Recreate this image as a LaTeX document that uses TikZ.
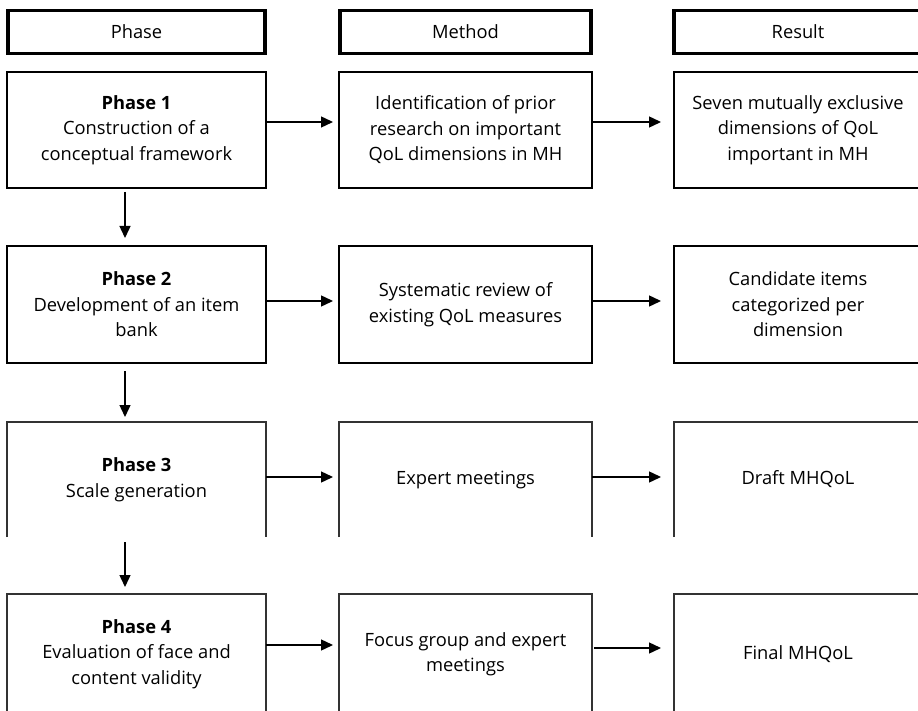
\documentclass[tikz,border=0pt]{standalone}
\usepackage{fontspec}
\setmainfont{Open Sans}
\usetikzlibrary{arrows.meta}
\begin{document}
\begin{tikzpicture}[x=1pt,y=-1pt,
  every node/.style={inner sep=0pt, outer sep=0pt, align=center, text=black,
    font=\fontsize{18.3}{25.5}\selectfont},
  hdr/.style={draw=black, line width=3.4pt, minimum height=43pt},
  cell/.style={draw=black, line width=1.4pt},
  opencell/.style={draw=none},
  arr/.style={line width=1.4pt, -{Triangle[length=12pt,width=11pt]}},
]
\useasboundingbox (0,0) rectangle (918,711);
\clip (0,0) rectangle (918,711);
% headers
\node[hdr, minimum width=257pt] (hp) at (136.5,32) {Phase};
\node[hdr, minimum width=251pt] (hm) at (465.5,32) {Method};
\node[hdr, minimum width=248pt] (hr) at (798,32) {Result};
% row 1
\node[cell, minimum width=259pt, minimum height=116pt] (p1) at (136.5,130) {\textbf{Phase 1}\\Construction of a\\conceptual framework};
\node[cell, minimum width=253pt, minimum height=116pt] (m1) at (465.5,130) {Identification of prior\\research on important\\QoL dimensions in MH};
\node[cell, minimum width=248pt, minimum height=116pt] (r1) at (798,130) {Seven mutually exclusive\\dimensions of QoL\\important in MH};
% row 2
\node[cell, minimum width=259pt, minimum height=117pt] (p2) at (136.5,304.5) {\textbf{Phase 2}\\Development of an item\\bank};
\node[cell, minimum width=253pt, minimum height=117pt] (m2) at (465.5,304.5) {Systematic review of\\existing QoL measures};
\node[cell, minimum width=248pt, minimum height=117pt] (r2) at (798,304.5) {Candidate items\\categorized per\\dimension};
% row 3 (open at bottom)
\node[opencell, minimum width=259pt, minimum height=115pt] (p3) at (136.5,479.5) {\textbf{Phase 3}\\Scale generation};
\node[opencell, minimum width=253pt, minimum height=115pt] (m3) at (465.5,479.5) {Expert meetings};
\node[opencell, minimum width=248pt, minimum height=115pt] (r3) at (798,479.5) {Draft MHQoL};
% row 4 (cut by the lower edge)
\node[opencell, minimum width=259pt, minimum height=120pt] (p4) at (136.5,654) {\textbf{Phase 4}\\Evaluation of face and\\content validity};
\node[opencell, minimum width=253pt, minimum height=120pt] (m4) at (465.5,654) {Focus group and expert\\meetings};
\node[opencell, minimum width=248pt, minimum height=120pt] (r4) at (798,654) {Final MHQoL};
\foreach \n in {p3,m3,r3,p4,m4,r4}{
  \draw[line width=1.4pt, black!80] (\n.south west) -- (\n.north west) -- (\n.north east) -- (\n.south east);
}
% horizontal arrows
\draw[arr, shorten >=6pt] ([yshift=8pt]p1.east) -- ([yshift=8pt]m1.west);
\draw[arr, shorten >=13pt] ([yshift=8pt]m1.east) -- ([yshift=8pt]r1.west);
\draw[arr, shorten >=6pt] ([yshift=3.5pt]p2.east) -- ([yshift=3.5pt]m2.west);
\draw[arr, shorten >=13pt] ([yshift=3.5pt]m2.east) -- ([yshift=3.5pt]r2.west);
\draw[arr, shorten >=6pt] ([yshift=2.5pt]p3.east) -- ([yshift=2.5pt]m3.west);
\draw[arr, shorten >=13pt] ([yshift=2.5pt]m3.east) -- ([yshift=2.5pt]r3.west);
\draw[arr, shorten >=6pt] ([yshift=9pt]p4.east) -- ([yshift=9pt]m4.west);
\draw[arr, shorten <=2pt, shorten >=13pt] ([yshift=6pt]m4.east) -- ([yshift=6pt]r4.west);
% vertical arrows
\draw[arr, shorten <=4pt, shorten >=8pt] ([xshift=-11.5pt]p1.south) -- ([xshift=-11.5pt]p2.north);
\draw[arr, shorten <=8pt, shorten >=5pt] ([xshift=-11.5pt]p2.south) -- ([xshift=-11.5pt]p3.north);
\draw[arr, shorten <=5pt, shorten >=7pt] ([xshift=-11.5pt]p3.south) -- ([xshift=-11.5pt]p4.north);
\end{tikzpicture}
\end{document}
